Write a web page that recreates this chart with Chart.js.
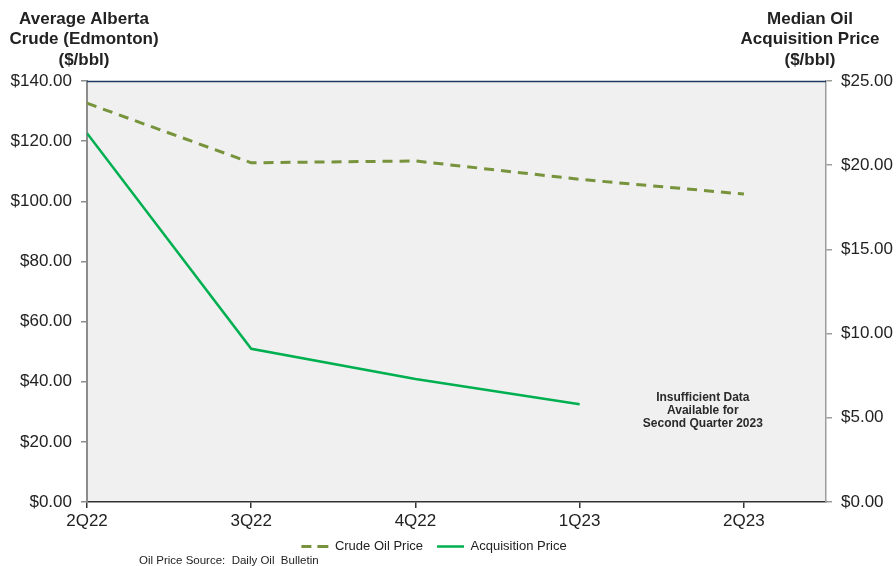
<!DOCTYPE html>
<html>
<head>
<meta charset="utf-8">
<script src="https://cdn.jsdelivr.net/npm/chart.js@4.4.1/dist/chart.umd.min.js"></script>
<style>
  html, body { margin: 0; padding: 0; background: #fff; }
  #wrap { width: 896px; height: 566px; }
</style>
</head>
<body>
<div id="wrap"><canvas id="oilChart" width="896" height="566"></canvas></div>
<script>
// quarterly series
const quarters = ['2Q22', '3Q22', '4Q22', '1Q23', '2Q23'];
const crudePrice = [132.6, 112.8, 113.4, 107.3, 102.4];      // $/bbl, left axis
const acquisitionPrice = [21.9, 9.1, 7.3, 5.8, null];         // $/bbl, right axis
const leftTicks = [0, 140, 20];   // min, max, step
const rightTicks = [0, 25, 5];

const FONT = '"Liberation Sans", Arial, sans-serif';
const TXT = '#222';

const toPoints = arr => arr.map((v, i) => ({ x: i, y: v }));
const money = v => '$' + Number(v).toFixed(2);

// plot background, top border, titles, note and source line
const decor = {
  id: 'decor',
  beforeDraw(chart) {
    const { ctx, chartArea: a } = chart;
    ctx.save();
    ctx.fillStyle = '#f0f0f0';
    ctx.fillRect(a.left, a.top, a.right - a.left, a.bottom - a.top);
    ctx.restore();
  },
  afterLayout(chart) {
    // nudge the legend into place under the axis
    const lg = chart.legend;
    if (!lg) return;
    const h = lg.height;
    lg.top = 526; lg.bottom = lg.top + h;
    lg.left -= 14; lg.right -= 14;
  },
  afterDatasetsDraw(chart) {
    const { ctx, scales } = chart;
    const x = scales.x.getPixelForValue(3.75);
    const y0 = scales.y.getPixelForValue(35);
    ctx.save();
    ctx.fillStyle = '#2a2a2a';
    ctx.font = `bold 12px ${FONT}`;
    ctx.textAlign = 'center';
    ctx.textBaseline = 'middle';
    ['Insufficient Data', 'Available for', 'Second Quarter 2023'].forEach((t, i) => {
      ctx.fillText(t, x, y0 + 0.5 + i * 13.2);
    });
    ctx.restore();
  },
  afterDraw(chart) {
    const { ctx, chartArea: a } = chart;
    ctx.save();
    ctx.strokeStyle = '#1f3a5f';
    ctx.lineWidth = 1.5;
    ctx.beginPath();
    ctx.moveTo(a.left, a.top + 0.5);
    ctx.lineTo(a.right, a.top + 0.5);
    ctx.stroke();

    ctx.fillStyle = TXT;
    ctx.font = `bold 17px ${FONT}`;
    ctx.textAlign = 'center';
    ctx.textBaseline = 'middle';
    ['Average Alberta', 'Crude (Edmonton)', '($/bbl)'].forEach((t, i) => ctx.fillText(t, 84, 19 + i * 20.5));
    ['Median Oil', 'Acquisition Price', '($/bbl)'].forEach((t, i) => ctx.fillText(t, 810, 19 + i * 20.5));

    ctx.font = `11.5px ${FONT}`;
    ctx.textAlign = 'left';
    ctx.fillText('Oil Price Source:  Daily Oil  Bulletin', 139, 561);
    ctx.restore();
  }
};

// legend keys drawn as flat lines; the long trailing gap keeps the
// return stroke of the zero-height box from filling in the dashes
function lineKeys(chart) {
  const items = Chart.defaults.plugins.legend.labels.generateLabels(chart);
  return items.map(it => ({
    ...it,
    fillStyle: 'rgba(0,0,0,0)',
    lineDash: it.lineDash && it.lineDash.length ? [10, 6, 11, 120] : [],
    lineWidth: it.datasetIndex === 0 ? 3 : 2.5
  }));
}

const ctx = document.getElementById('oilChart').getContext('2d');
new Chart(ctx, {
  type: 'line',
  data: {
    datasets: [
      {
        label: 'Crude Oil Price',
        data: toPoints(crudePrice),
        yAxisID: 'y',
        borderColor: '#77933c',
        backgroundColor: '#77933c',
        borderWidth: 3,
        borderDash: [10, 7],
        pointRadius: 0,
        tension: 0
      },
      {
        label: 'Acquisition Price',
        data: toPoints(acquisitionPrice),
        yAxisID: 'y1',
        borderColor: '#00b050',
        backgroundColor: '#00b050',
        borderWidth: 2.5,
        pointRadius: 0,
        tension: 0
      }
    ]
  },
  options: {
    responsive: false,
    animation: false,
    layout: { padding: { top: 81, left: 0, right: 0, bottom: 0 } },
    plugins: {
      legend: {
        position: 'bottom',
        labels: {
          boxWidth: 27,
          boxHeight: 0,
          padding: 14,
          color: TXT,
          font: { family: FONT, size: 13 },
          generateLabels: lineKeys
        }
      },
      tooltip: { enabled: false }
    },
    scales: {
      x: {
        type: 'linear',
        min: 0,
        max: 4.5,
        afterBuildTicks: s => { s.ticks = s.ticks.filter(t => Number.isInteger(t.value)); },
        afterFit: s => { s.height = 27; },
        ticks: {
          stepSize: 1,
          padding: 3,
          color: TXT,
          font: { family: FONT, size: 17 },
          maxRotation: 0,
          callback: v => quarters[v] ?? ''
        },
        grid: { drawOnChartArea: false, tickLength: 6, color: '#333', lineWidth: 1.5 },
        border: { color: '#333', width: 1.5 }
      },
      y: {
        position: 'left',
        min: leftTicks[0],
        max: leftTicks[1],
        afterFit: s => { s.width = 87; },
        ticks: {
          stepSize: leftTicks[2],
          padding: 9,
          color: TXT,
          font: { family: FONT, size: 17 },
          callback: money
        },
        grid: { drawOnChartArea: false, tickLength: 6, color: '#8c8c8c', lineWidth: 1.5 },
        border: { color: '#8c8c8c', width: 2 }
      },
      y1: {
        position: 'right',
        min: rightTicks[0],
        max: rightTicks[1],
        afterFit: s => { s.width = 70; },
        ticks: {
          stepSize: rightTicks[2],
          padding: 9,
          color: TXT,
          font: { family: FONT, size: 17 },
          callback: money
        },
        grid: { drawOnChartArea: false, tickLength: 6, color: '#9c9c9c', lineWidth: 1.5 },
        border: { color: '#9c9c9c', width: 1.5 }
      }
    }
  },
  plugins: [decor]
});
</script>
</body>
</html>
